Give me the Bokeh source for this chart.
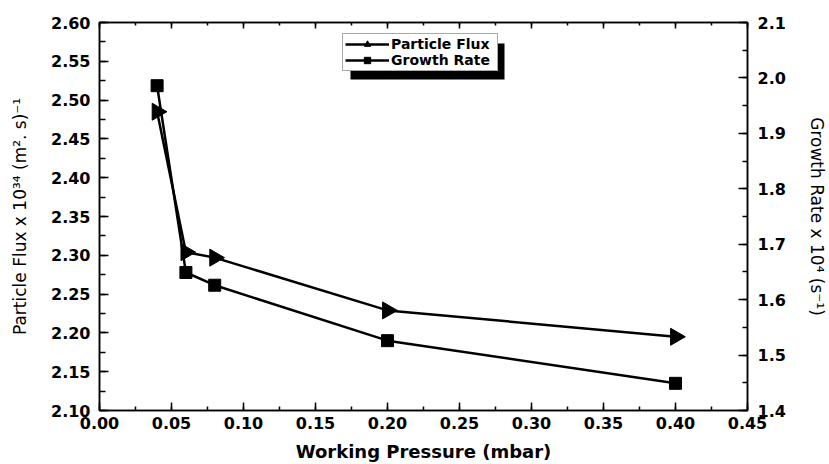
import numpy as np
from bokeh.plotting import figure
from bokeh.models import (Range1d, LinearAxis, SingleIntervalTicker, Legend,
                          LegendItem, PrintfTickFormatter, CustomJSTickFormatter,
                          BoxAnnotation)
from bokeh.embed import file_html
from bokeh.resources import INLINE

# Working pressure (mbar)
pressure = [0.04, 0.06, 0.08, 0.20, 0.40]
# Particle flux x 10^34 (m^2 s)^-1, left axis
particle_flux = [2.485, 2.304, 2.297, 2.229, 2.195]
# Growth rate x 10^4 (s^-1), right axis
growth_rate = [1.986, 1.649, 1.626, 1.526, 1.449]

FONT = "DejaVu Sans"
W, H = 829, 464
BL, BR, BT, BB = 99, 82, 22, 54
FRAME_W, FRAME_H = W - BL - BR, H - BT - BB
X0, X1 = 0.0, 0.45
Y0, Y1 = 2.10, 2.60

p = figure(width=W, height=H, output_backend="svg", toolbar_location=None,
           x_range=Range1d(X0, X1), y_range=Range1d(Y0, Y1),
           min_border_left=BL, min_border_right=BR,
           min_border_top=BT, min_border_bottom=BB)
p.extra_y_ranges = {"gr": Range1d(1.4, 2.1)}
p.xgrid.visible = False
p.ygrid.visible = False
p.outline_line_color = "black"
p.outline_line_width = 1.5
p.background_fill_color = "white"
p.border_fill_color = "white"


def style_axis(ax, major, minor, label_px=16):
    ax.axis_line_color = "black"
    ax.axis_line_width = 1.5
    ax.major_tick_in = major
    ax.major_tick_out = 0
    ax.minor_tick_in = minor
    ax.minor_tick_out = 0
    ax.major_tick_line_width = 1.5
    ax.minor_tick_line_width = 1.5
    ax.major_tick_line_color = "black"
    ax.minor_tick_line_color = "black"
    ax.major_label_text_font = FONT
    ax.major_label_text_font_style = "bold"
    ax.major_label_text_font_size = f"{label_px}px"
    ax.major_label_text_color = "black"
    ax.axis_label_text_color = "black"
    ax.axis_label_text_font = FONT


# bottom axis
xa = p.xaxis[0]
xa.ticker = SingleIntervalTicker(interval=0.05, num_minor_ticks=2)
xa.formatter = PrintfTickFormatter(format="%.2f")
style_axis(xa, 8, 4)
xa.major_label_standoff = 6
xa.axis_label = "Working Pressure (mbar)"
xa.axis_label_text_font_style = "bold"
xa.axis_label_text_font_size = "18px"
xa.axis_label_standoff = 9

# left axis
ya = p.yaxis[0]
ya.ticker = SingleIntervalTicker(interval=0.05, num_minor_ticks=2)
ya.formatter = PrintfTickFormatter(format="%.2f")
style_axis(ya, 9, 6)
ya.major_label_standoff = 9
ya.axis_label = "Particle Flux x 10³⁴ (m². s)⁻¹"
ya.axis_label_text_font_style = "normal"
ya.axis_label_text_font_size = "17px"
ya.axis_label_standoff = 18

# right axis
yr = LinearAxis(y_range_name="gr",
                ticker=SingleIntervalTicker(interval=0.1, num_minor_ticks=2),
                formatter=PrintfTickFormatter(format="%.1f"))
style_axis(yr, 9, 5)
yr.major_label_standoff = 10
yr.axis_label = "Growth Rate x 10⁴ (s⁻¹)"
yr.axis_label_text_font_style = "normal"
yr.axis_label_text_font_size = "17px"
yr.axis_label_standoff = 18
p.add_layout(yr, "right")

# top axis: mirrored ticks only, no labels
xt = LinearAxis(ticker=SingleIntervalTicker(interval=0.05, num_minor_ticks=2),
                formatter=CustomJSTickFormatter(code="return ''"))
style_axis(xt, 6, 3)
xt.major_label_standoff = 0
p.add_layout(xt, "above")

# series
l1 = p.line(pressure, particle_flux, line_color="black", line_width=2.5)
s1 = p.scatter(pressure, particle_flux, marker="triangle", size=17,
               angle=-np.pi / 2, fill_color="black", line_color="black")
l2 = p.line(pressure, growth_rate, line_color="black", line_width=2.5,
            y_range_name="gr")
s2 = p.scatter(pressure, growth_rate, marker="square", size=12,
               fill_color="black", line_color="black", y_range_name="gr")

# legend box geometry (screen px, measured from the frame's bottom-left)
LEG_X, LEG_Y = 243, 339
PAD, GLYPH_W, ROW_H, STANDOFF, LABEL_W = 2, 44, 16, 2, 104
LEG_W = 2 * PAD + GLYPH_W + STANDOFF + LABEL_W
LEG_H = 2 * PAD + 2 * ROW_H
SHADOW = 8


def px_to_x(px):
    return X0 + px / FRAME_W * (X1 - X0)


def px_to_y(py):
    return Y0 + py / FRAME_H * (Y1 - Y0)


# drop shadow behind the legend
shadow = BoxAnnotation(left=px_to_x(LEG_X + SHADOW),
                       right=px_to_x(LEG_X + SHADOW + LEG_W),
                       bottom=px_to_y(LEG_Y - SHADOW),
                       top=px_to_y(LEG_Y - SHADOW + LEG_H),
                       fill_color="black", fill_alpha=1.0, line_alpha=0,
                       level="annotation")
p.add_layout(shadow)

legend = Legend(items=[LegendItem(label="Particle Flux", renderers=[l1, s1]),
                       LegendItem(label="Growth Rate", renderers=[l2, s2])],
                location=(LEG_X, LEG_Y), orientation="vertical",
                padding=PAD, spacing=0, margin=0, label_standoff=STANDOFF,
                glyph_width=GLYPH_W, glyph_height=ROW_H, label_height=ROW_H,
                label_width=LABEL_W,
                label_text_font=FONT, label_text_font_style="bold",
                label_text_font_size="14px", label_text_color="black",
                background_fill_color="white", background_fill_alpha=1.0,
                border_line_color="#555555", border_line_width=1)
p.add_layout(legend)

open("out.html", "w").write(file_html(p, INLINE))
